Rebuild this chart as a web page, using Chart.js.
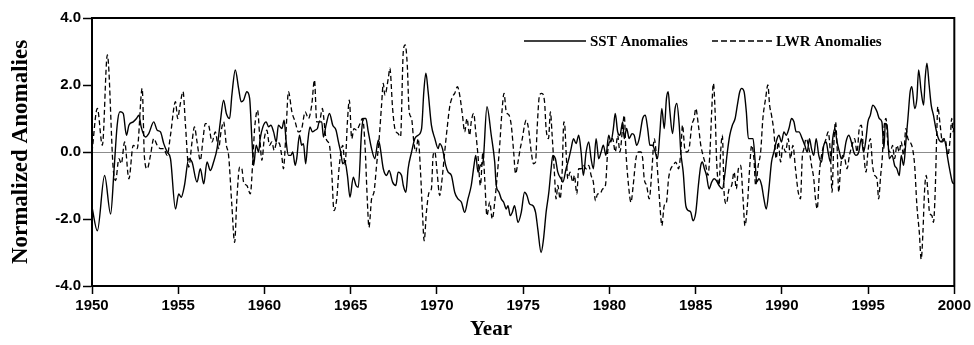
<!DOCTYPE html>
<html><head><meta charset="utf-8">
<script src="https://cdn.jsdelivr.net/npm/chart.js@4.4.1/dist/chart.umd.min.js"></script>
<style>html,body{margin:0;padding:0;background:#fff;}#wrap{width:974px;height:345px;position:relative;}canvas{display:block;}</style>
</head><body><div id="wrap"><canvas id="c" width="974" height="345"></canvas></div>
<script>
const xTicks = [1950,1955,1960,1965,1970,1975,1980,1985,1990,1995,2000];
const yTicks = [-4,-2,0,2,4];
const seriesNames = ['SST Anomalies','LWR Anomalies'];
const xTitle = 'Year';
const yTitle = 'Normalized Anomalies';

const sstYear = [
1950.00,1950.31,1950.73,1951.08,1951.27,1951.46,1951.62,1951.81,1952.00,1952.14,1952.39,1952.58,1952.72,1952.85,1953.10,1953.29,1953.58,1953.78,1953.97,
1954.16,1954.36,1954.55,1954.84,1955.03,1955.17,1955.36,1955.61,1955.80,1956.09,1956.28,1956.48,1956.67,1956.86,1957.05,1957.25,1957.44,1957.63,1957.79,1957.98,1958.11,1958.31,1958.50,1958.65,
1958.79,1958.98,1959.14,1959.27,1959.37,1959.52,1959.66,1959.75,1959.91,1960.10,1960.24,1960.37,1960.53,1960.68,1960.81,1961.01,1961.14,1961.26,1961.39,1961.53,1961.64,1961.78,1961.87,1962.03,1962.16,1962.26,1962.39,1962.51,1962.64,1962.78,1962.93,1963.07,1963.18,1963.32,
1963.42,1963.57,1963.77,1963.96,1964.15,1964.29,1964.42,1964.54,1964.67,1964.81,1964.96,1965.15,1965.31,1965.44,1965.63,1965.73,1965.88,1966.02,1966.21,1966.40,1966.60,1966.69,1966.89,1967.08,1967.23,1967.43,1967.62,1967.75,1967.95,
1968.05,1968.20,1968.33,1968.53,1968.72,1968.91,1969.11,1969.24,1969.36,1969.49,1969.68,1969.88,1970.07,1970.16,1970.32,1970.51,1970.65,1970.84,1971.03,1971.22,1971.42,1971.61,1971.80,1971.99,1972.15,1972.25,1972.38,1972.52,
1972.67,1972.90,1973.15,1973.35,1973.44,1973.60,1973.73,1973.87,1974.02,1974.12,1974.25,1974.37,1974.50,1974.70,1974.89,1975.08,1975.22,1975.37,1975.56,1975.72,1975.85,1976.04,1976.18,1976.33,1976.49,1976.62,1976.72,1976.87,1977.01,1977.20,
1977.30,1977.49,1977.65,1977.78,1977.92,1978.07,1978.22,1978.36,1978.49,1978.65,1978.80,1978.94,1979.07,1979.23,1979.38,1979.52,1979.65,1979.80,1979.96,1980.09,1980.23,1980.34,1980.48,1980.61,1980.77,1980.86,1981.00,1981.15,1981.31,1981.44,1981.58,1981.73,
1981.93,1982.08,1982.22,1982.35,1982.50,1982.66,1982.79,1982.93,1983.04,1983.18,1983.31,1983.41,1983.51,1983.66,1983.81,1983.91,1984.05,1984.14,1984.28,1984.43,1984.59,1984.72,1984.85,1985.01,1985.16,1985.30,1985.39,1985.51,1985.63,1985.78,1985.93,1986.07,1986.20,1986.36,
1986.55,1986.71,1986.84,1986.98,1987.13,1987.29,1987.42,1987.56,1987.67,1987.81,1987.94,1988.06,1988.19,1988.33,1988.44,1988.54,1988.67,1988.83,1988.96,1989.10,1989.25,1989.40,1989.54,1989.67,1989.83,1989.98,1990.12,1990.25,1990.41,1990.56,1990.70,1990.83,1990.99,
1991.18,1991.33,1991.47,1991.60,1991.72,1991.85,1991.99,1992.14,1992.30,1992.43,1992.57,1992.68,1992.82,1992.95,1993.07,1993.20,1993.34,1993.45,1993.59,1993.72,1993.88,1994.03,1994.17,1994.30,1994.46,1994.61,1994.74,1994.88,1994.99,1995.13,1995.27,1995.38,1995.52,1995.65,1995.80,
1995.92,1996.00,1996.10,1996.23,1996.39,1996.54,1996.67,1996.81,1996.92,1997.06,1997.19,1997.31,1997.44,1997.54,1997.70,1997.83,1997.93,1998.08,1998.22,1998.31,1998.41,1998.54,1998.66,1998.79,1998.93,1999.08,1999.24,1999.37,1999.51,1999.62,1999.76,1999.89,2000.00
];
const sstValue = [
-1.65,-2.35,-0.70,-1.85,-0.60,0.80,1.20,1.15,0.50,0.80,0.90,1.00,1.10,0.75,0.45,0.55,0.90,0.65,0.60,
0.25,0.00,-0.20,-1.70,-1.25,-1.35,-1.00,-0.20,-0.30,-0.90,-0.50,-0.95,-0.30,-0.55,-0.30,0.10,0.90,1.55,1.15,1.00,1.70,2.45,1.90,1.50,
1.55,1.80,1.60,0.40,-0.40,0.20,0.00,0.40,0.75,0.90,0.75,0.80,0.60,0.30,0.80,0.70,0.95,0.30,-0.10,-0.10,0.00,-0.40,-0.20,0.50,0.20,0.25,-0.35,0.30,0.75,0.60,0.65,0.70,0.90,0.90,
0.45,0.80,1.15,0.80,0.65,0.30,0.00,-0.35,-0.30,-0.70,-1.35,-0.75,-1.00,-1.05,0.60,1.00,1.00,0.60,0.10,-0.20,0.35,0.20,-0.50,-0.70,-0.55,-0.90,-1.00,-0.60,-0.70,
-1.00,-1.20,-0.50,0.00,0.40,0.50,0.70,1.80,2.35,1.80,0.80,0.40,0.10,0.25,0.10,-0.40,-0.60,-0.70,-1.20,-1.40,-1.50,-1.80,-1.40,-1.00,-0.40,-0.10,-0.60,-0.40,
-0.30,1.35,0.50,-0.30,-1.00,-1.20,-1.40,-1.50,-1.70,-1.60,-1.90,-1.80,-1.60,-2.10,-1.80,-1.20,-1.30,-1.55,-1.60,-1.80,-2.30,-3.00,-2.60,-1.80,-1.20,-0.50,-0.10,-0.20,-0.60,-0.80,
-0.90,-0.50,-0.20,0.10,0.40,0.25,0.50,0.00,-0.70,0.00,0.30,-0.20,-0.50,0.40,-0.20,0.00,0.20,-0.10,0.50,0.30,0.70,1.15,0.60,0.50,0.90,0.40,0.70,0.40,0.55,0.50,0.20,0.40,
1.00,1.10,0.70,0.20,0.20,0.00,-0.20,0.60,1.30,0.70,1.60,1.80,1.20,0.55,1.30,1.45,0.80,0.00,-0.60,-1.60,-1.75,-1.80,-2.05,-1.80,-1.00,-0.40,-0.30,-0.50,-0.70,-1.10,-0.90,-0.80,-0.85,-1.00,
-1.10,-0.60,0.00,0.50,0.80,1.00,1.40,1.80,1.90,1.80,1.20,0.40,0.40,0.40,-0.20,-0.90,-0.80,-1.00,-1.40,-1.70,-1.10,-0.30,0.00,0.30,0.50,0.30,0.60,0.50,0.70,1.00,0.90,0.60,0.60,
0.40,0.20,0.00,0.40,0.10,-0.10,0.40,-0.10,-0.30,0.20,0.30,0.00,-0.30,0.40,0.70,0.30,0.00,-0.20,-0.10,0.30,0.50,0.30,0.00,-0.10,0.00,0.40,0.00,0.40,0.90,1.10,1.40,1.35,1.20,1.00,0.90,
0.10,0.85,0.80,-0.20,-0.10,-0.40,-0.50,-0.70,-0.10,-0.40,0.30,1.00,1.80,1.95,1.30,1.60,2.45,1.80,1.40,2.20,2.65,2.00,1.40,1.10,0.70,0.40,0.30,0.40,0.20,-0.20,-0.60,-0.90,-0.95
];

const lwrYear = [
1950.00,1950.31,1950.60,1950.89,1951.23,1951.37,1951.56,1951.70,1951.89,1952.14,1952.39,1952.62,1952.91,1953.04,1953.20,1953.39,1953.58,1953.78,1953.97,
1954.16,1954.36,1954.55,1954.84,1954.97,1955.09,1955.28,1955.42,1955.61,1955.80,1955.94,1956.09,1956.28,1956.44,1956.57,1956.76,1956.96,1957.15,1957.34,1957.48,1957.63,1957.79,1957.92,1958.11,1958.27,1958.40,1958.56,1958.69,
1958.79,1958.98,1959.18,1959.33,1959.43,1959.60,1959.72,1959.85,1959.99,1960.14,1960.29,1960.43,1960.56,1960.72,1960.87,1961.01,1961.10,1961.24,1961.39,1961.59,1961.78,1961.97,1962.16,1962.36,1962.55,1962.74,1962.90,1963.03,1963.18,1963.36,
1963.42,1963.57,1963.77,1963.90,1964.03,1964.19,1964.34,1964.54,1964.67,1964.81,1964.92,1965.06,1965.19,1965.35,1965.50,1965.69,1965.83,1965.96,1966.06,1966.21,1966.35,1966.50,1966.65,1966.79,1966.89,1966.98,1967.18,1967.27,1967.43,1967.56,1967.75,1967.89,
1968.05,1968.16,1968.28,1968.39,1968.53,1968.66,1968.78,1968.91,1969.05,1969.16,1969.26,1969.39,1969.55,1969.68,1969.78,1969.88,1970.01,1970.16,1970.32,1970.45,1970.59,1970.74,1970.90,1971.03,1971.19,1971.32,1971.48,1971.61,1971.74,1971.90,1971.99,1972.13,1972.25,1972.38,1972.52,
1972.67,1972.77,1972.90,1973.06,1973.21,1973.35,1973.48,1973.64,1973.77,1973.89,1974.02,1974.18,1974.31,1974.45,1974.56,1974.70,1974.83,1974.95,1975.08,1975.18,1975.31,1975.47,1975.60,1975.72,1975.81,1975.95,1976.08,1976.24,1976.33,1976.47,1976.58,1976.68,1976.81,1976.91,1977.01,1977.14,1977.26,
1977.36,1977.42,1977.49,1977.59,1977.72,1977.88,1977.97,1978.11,1978.22,1978.36,1978.49,1978.65,1978.80,1978.94,1979.07,1979.19,1979.32,1979.46,1979.61,1979.77,1979.90,1980.04,1980.19,1980.34,1980.48,1980.61,1980.77,1980.86,1980.96,1981.11,1981.25,1981.38,1981.54,1981.69,1981.83,
1981.93,1982.02,1982.16,1982.31,1982.47,1982.60,1982.74,1982.85,1982.99,1983.04,1983.18,1983.31,1983.43,1983.56,1983.70,1983.85,1984.01,1984.14,1984.24,1984.37,1984.49,1984.62,1984.78,1984.91,1985.01,1985.16,1985.30,1985.43,1985.59,1985.72,1985.84,1985.93,1986.03,1986.13,1986.22,1986.36,1986.45,
1986.55,1986.65,1986.78,1986.94,1987.09,1987.23,1987.36,1987.48,1987.61,1987.75,1987.86,1988.00,1988.13,1988.25,1988.38,1988.48,1988.63,1988.77,1988.90,1989.06,1989.19,1989.29,1989.40,1989.54,1989.67,1989.79,1989.93,1990.06,1990.21,1990.37,1990.50,1990.64,1990.79,1990.95,1991.08,
1991.18,1991.28,1991.41,1991.57,1991.72,1991.85,1991.95,1992.05,1992.18,1992.30,1992.43,1992.57,1992.68,1992.82,1992.91,1993.01,1993.11,1993.20,1993.30,1993.40,1993.53,1993.65,1993.78,1993.92,1994.07,1994.22,1994.36,1994.49,1994.61,1994.74,1994.88,1994.99,1995.13,1995.26,1995.38,1995.52,1995.61,1995.73,
1995.82,1995.90,1996.04,1996.15,1996.29,1996.42,1996.54,1996.67,1996.81,1996.92,1997.06,1997.19,1997.31,1997.44,1997.58,1997.70,1997.83,1997.97,1998.08,1998.18,1998.27,1998.37,1998.47,1998.56,1998.70,1998.79,1998.89,1998.99,1999.04,1999.18,1999.31,1999.47,1999.62,1999.76,1999.85,1999.93,2000.00
];
const lwrValue = [
0.00,1.30,0.20,2.90,-0.50,-0.85,-0.20,-0.35,0.30,-0.80,0.20,0.10,1.90,-0.15,-0.50,-0.10,0.40,0.20,0.10,
0.10,-0.10,0.50,1.50,1.00,1.35,1.80,0.80,-0.45,0.30,0.75,0.30,-0.25,0.40,0.85,0.80,0.30,0.60,0.10,0.60,0.90,0.20,-0.10,-1.60,-2.70,-1.40,-0.45,-0.50,
-0.90,-1.00,-1.25,-0.20,0.70,1.25,0.50,-0.25,0.40,0.65,0.20,0.30,0.05,0.30,0.25,-0.15,-0.50,0.50,1.80,1.20,0.90,0.60,0.70,1.20,1.00,1.40,2.15,0.90,0.90,1.30,
1.10,0.40,0.20,-0.60,-1.75,-1.40,-0.40,0.20,-0.40,0.90,1.55,0.40,0.70,0.65,0.80,1.00,0.20,-1.40,-2.25,-1.40,-1.20,-0.40,0.40,1.40,2.05,1.70,2.20,2.50,1.30,0.70,0.55,0.45,
3.00,3.20,2.60,1.20,1.00,0.30,0.00,0.40,-0.60,-1.80,-2.65,-1.80,-1.20,-1.10,-0.10,0.00,-0.60,-1.30,-0.70,0.00,0.70,1.35,1.65,1.75,1.95,1.70,1.10,0.60,1.00,0.50,0.90,1.15,0.60,-0.10,-1.00,
0.00,-0.80,-1.90,-1.50,-2.00,-1.50,-0.80,0.20,1.20,1.75,1.20,1.10,0.80,0.00,-0.65,-0.30,0.10,0.40,0.80,0.95,0.70,0.00,-0.35,-0.30,0.70,1.70,1.75,1.50,0.70,0.40,1.20,0.50,-0.60,-1.40,-1.00,-1.40,-0.60,
0.90,0.75,0.00,-0.80,-0.60,-0.90,-0.70,-1.25,-0.50,-0.50,-0.40,-0.50,-0.40,-0.70,-0.90,-1.45,-1.25,-1.25,-1.10,-1.00,0.00,0.35,0.40,0.00,0.50,0.00,0.75,1.10,0.00,-1.00,-1.50,-1.00,-0.20,0.00,0.00,
-0.20,-0.80,-1.00,-1.40,-0.50,0.40,-0.20,-1.00,-2.00,-2.20,-1.60,-1.50,-0.80,-0.50,-0.40,-0.30,-0.50,0.00,0.80,0.10,0.00,0.10,0.80,1.00,1.30,0.80,0.20,-0.10,-0.40,-0.70,0.10,1.20,2.05,1.20,-0.30,-1.00,0.00,
0.50,-1.20,-1.55,-1.10,-1.00,-0.60,-1.10,-0.50,-0.40,-1.40,-2.20,-1.60,-0.50,0.20,-0.20,-1.00,-0.40,0.00,1.00,1.60,2.00,1.40,1.10,0.60,-0.20,0.30,-0.30,0.20,0.00,0.40,-0.20,0.20,-0.50,-1.20,-1.40,
-0.20,0.10,0.40,0.10,-0.40,-0.80,-1.40,-1.70,-0.60,-0.10,0.20,0.40,0.60,-0.10,-1.20,0.20,0.90,0.20,-1.20,-0.50,-0.10,-0.20,-0.50,-0.10,0.20,0.40,0.00,0.70,0.80,0.00,-0.60,0.00,0.40,-0.40,-0.70,-0.80,-1.40,-0.70,
-0.20,0.60,1.00,0.20,0.00,0.20,-0.20,0.20,0.00,0.30,-0.10,0.70,0.40,0.30,0.10,-0.40,-1.60,-2.40,-3.20,-2.40,-1.20,-0.70,-1.20,-1.80,-1.90,-2.10,-1.20,0.70,1.35,0.80,0.30,0.40,-0.10,0.40,1.00,0.60,0.90
];

const toPoints = (xs, ys) => xs.map((x, i) => ({x: x, y: ys[i]}));
const serifFamily = '"Liberation Serif", "Times New Roman", serif';

const frameAndLegend = {
  id: 'frameAndLegend',
  afterDraw(chart) {
    const {ctx, chartArea: a} = chart;
    ctx.save();
    ctx.strokeStyle = '#000';
    ctx.lineWidth = 2;
    ctx.strokeRect(a.left, a.top, a.right - a.left, a.bottom - a.top);
    // legend
    const ly = a.top + 23;
    ctx.font = 'bold 15px ' + serifFamily;
    ctx.fillStyle = '#000';
    ctx.textBaseline = 'middle';
    ctx.textAlign = 'left';
    ctx.lineWidth = 1.5;
    ctx.beginPath(); ctx.moveTo(524, ly); ctx.lineTo(586, ly); ctx.stroke();
    ctx.fillText(seriesNames[0], 590, ly + 1);
    ctx.setLineDash([6, 3]);
    ctx.beginPath(); ctx.moveTo(712, ly); ctx.lineTo(772, ly); ctx.stroke();
    ctx.setLineDash([]);
    ctx.fillText(seriesNames[1], 776, ly + 1);
    // x-axis title
    ctx.font = 'bold 21px ' + serifFamily;
    ctx.textAlign = 'center';
    ctx.textBaseline = 'middle';
    ctx.fillText(xTitle, 491, 330);
    ctx.restore();
  }
};

const tickFont = {family: '"Liberation Sans", Arial, sans-serif', weight: 'bold', size: 15};

new Chart(document.getElementById('c'), {
  type: 'line',
  data: {
    datasets: [
      {label: seriesNames[0], data: toPoints(sstYear, sstValue), borderColor: '#000', borderWidth: 1.4, pointRadius: 0, cubicInterpolationMode: 'monotone', fill: false},
      {label: seriesNames[1], data: toPoints(lwrYear, lwrValue), borderColor: '#000', borderWidth: 1.3, borderDash: [5, 3], pointRadius: 0, cubicInterpolationMode: 'monotone', fill: false}
    ]
  },
  options: {
    responsive: false,
    devicePixelRatio: 1,
    animation: false,
    layout: {padding: {left: 0, right: 18, top: 18, bottom: 0}},
    plugins: {legend: {display: false}, tooltip: {enabled: false}},
    scales: {
      x: {
        type: 'linear', min: 1950, max: 2000,
        afterBuildTicks: s => { s.ticks = xTicks.map(v => ({value: v})); },
        afterFit: s => { s.height = 59; },
        ticks: {font: tickFont, color: '#000', padding: 3, maxRotation: 0, autoSkip: false, callback: v => String(v)},
        grid: {drawOnChartArea: false, drawTicks: true, tickLength: 8, tickColor: '#000', tickWidth: 1.5},
        border: {display: true, color: '#000', width: 2},
        title: {display: false}
      },
      y: {
        type: 'linear', min: -4, max: 4,
        afterBuildTicks: s => { s.ticks = yTicks.map(v => ({value: v})); },
        afterFit: s => { s.width = 92; },
        ticks: {font: tickFont, color: '#000', padding: 2, callback: v => Number(v).toFixed(1)},
        grid: {drawOnChartArea: true, drawTicks: true, tickLength: 9, tickColor: '#000', tickWidth: 1.5,
               color: c => (c.tick && c.tick.value === 0) ? '#8c8c8c' : 'rgba(0,0,0,0)', lineWidth: 1},
        border: {display: true, color: '#000', width: 2},
        title: {display: true, text: yTitle, color: '#000', font: {family: serifFamily, weight: 'bold', size: 23}, padding: {top: 7, bottom: 0}}
      }
    }
  },
  plugins: [frameAndLegend]
});
</script>
</body></html>
